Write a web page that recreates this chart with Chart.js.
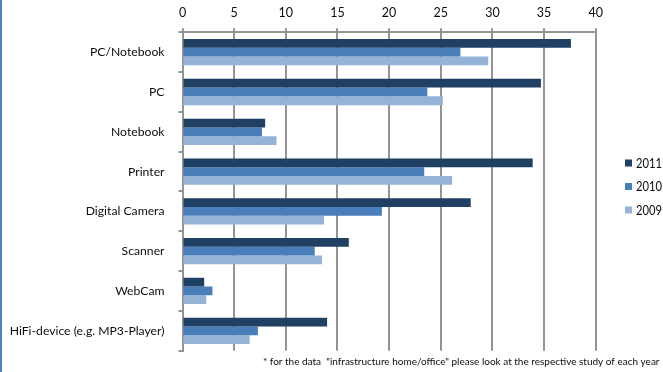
<!DOCTYPE html>
<html>
<head>
<meta charset="utf-8">
<script src="https://cdn.jsdelivr.net/npm/chart.js@4"></script>
<style>
  html, body { margin: 0; padding: 0; background: #fff; }
  #wrap { width: 663px; height: 372px; position: relative; }
</style>
</head>
<body>
<div id="wrap"><canvas id="c" width="663" height="372"></canvas></div>
<script>
const categories = ['PC/Notebook', 'PC', 'Notebook', 'Printer', 'Digital Camera', 'Scanner', 'WebCam', 'HiFi-device (e.g. MP3-Player)'];
const values2011 = [37.6, 34.7, 8.0, 33.9, 27.9, 16.1, 2.1, 14.0];
const values2010 = [26.9, 23.7, 7.7, 23.4, 19.3, 12.8, 2.9, 7.3];
const values2009 = [29.6, 25.2, 9.1, 26.1, 13.7, 13.5, 2.3, 6.5];
const xTicks = [0, 5, 10, 15, 20, 25, 30, 35, 40];
const footnote = '* for the data  "infrastructure home/office" please look at the respective study of each year';

const FONT = 'Lato, "Open Sans", sans-serif';
const GRID = '#949494';
const TEXT = '#0d0d0d';

// draws text squeezed horizontally to a given width
function fitText(ctx, text, x, y, width) {
  const w = ctx.measureText(text).width;
  ctx.save();
  ctx.translate(x, y);
  ctx.scale(Math.min(1, width / w), 1);
  ctx.fillText(text, 0, 0);
  ctx.restore();
}

// legend on the right, footnote under the plot and the blue frame edge
const decorations = {
  id: 'decorations',
  afterDraw(chart) {
    const ctx = chart.ctx;
    ctx.save();
    ctx.fillStyle = '#4f81bd';
    ctx.fillRect(0, 0, 2, chart.height);

    ctx.font = '13px ' + FONT;
    ctx.textBaseline = 'middle';
    ctx.textAlign = 'left';
    chart.data.datasets.forEach((ds, i) => {
      const y = 163 + i * 23.5;
      ctx.fillStyle = ds.backgroundColor;
      ctx.fillRect(625, y - 3.5, 7, 7);
      ctx.fillStyle = TEXT;
      fitText(ctx, ds.label, 636, y + 0.5, 26);
    });

    ctx.font = '10px ' + FONT;
    ctx.fillStyle = TEXT;
    fitText(ctx, footnote, 263, 362, 397);
    ctx.restore();
  }
};

new Chart(document.getElementById('c'), {
  type: 'bar',
  data: {
    labels: categories,
    datasets: [
      { label: '2011', data: values2011, backgroundColor: '#1f3f63' },
      { label: '2010', data: values2010, backgroundColor: '#4a7ebb' },
      { label: '2009', data: values2009, backgroundColor: '#95b3d7' }
    ]
  },
  options: {
    indexAxis: 'y',
    responsive: false,
    animation: false,
    events: [],
    layout: { padding: { left: 0, right: 67.3, top: 0, bottom: 18.7 } },
    datasets: { bar: { categoryPercentage: 0.66, barPercentage: 1.0 } },
    plugins: { legend: { display: false }, tooltip: { enabled: false } },
    scales: {
      x: {
        position: 'top',
        min: 0,
        max: 40,
        afterBuildTicks(scale) { scale.ticks = xTicks.map(v => ({ value: v })); },
        afterFit(scale) { scale.height = 32.3; },
        ticks: { font: { family: FONT, size: 12.5 }, color: TEXT, padding: 8 },
        grid: { color: GRID, lineWidth: 2, tickLength: 4, drawTicks: true },
        border: { color: GRID, width: 2 }
      },
      y: {
        afterFit(scale) { scale.width = 182.5; },
        ticks: { font: { family: FONT, size: 12.2 }, color: TEXT, padding: 14 },
        grid: { offset: true, drawOnChartArea: false, color: GRID, lineWidth: 2, tickLength: 4 },
        border: { color: GRID, width: 2 }
      }
    }
  },
  plugins: [decorations]
});
</script>
</body>
</html>
